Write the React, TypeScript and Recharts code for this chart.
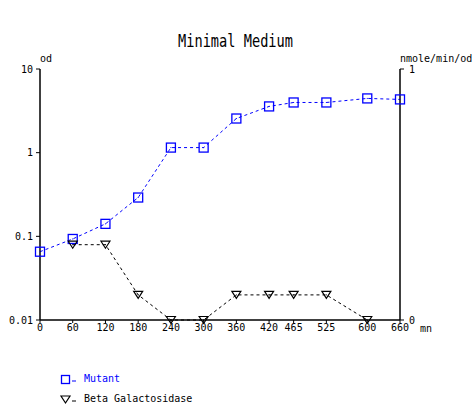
import React from 'react';
import { LineChart, Line, XAxis, YAxis } from 'recharts';

const times = [0, 60, 120, 180, 240, 300, 360, 420, 465, 525, 600, 660];
const mutantOd = [0.0655, 0.093, 0.141, 0.291, 1.15, 1.15, 2.56, 3.57, 3.98, 3.98, 4.45, 4.33];
const betaGalactosidase: (number | null)[] = [null, 0.3, 0.3, 0.1, 0, 0, 0.1, 0.1, 0.1, 0.1, 0, null];
const xTicks = [0, 60, 120, 180, 240, 300, 360, 420, 465, 525, 600, 660];
const leftTicks = [0.01, 0.1, 1, 10];
const rightTicks = [0, 1];
const title = 'Minimal Medium';
const leftUnit = 'od';
const rightUnit = 'nmole/min/od';
const xUnit = 'mn';
const seriesNames = ['Mutant', 'Beta Galactosidase'];

const data = times.map((t, i) => ({ t, mutant: mutantOd[i], beta: betaGalactosidase[i] }));

const FONT = '"DejaVu Sans Mono", "Liberation Mono", monospace';
const BLUE = '#0000ff';

const SquareDot = (props: any) => {
  const { cx, cy, index } = props;
  if (cx == null || cy == null || Number.isNaN(cy)) return <g key={`s${index}`} />;
  return (
    <g key={`s${index}`}>
      <rect x={cx - 4.5} y={cy - 4.5} width={9} height={9} fill="none" stroke={BLUE} strokeWidth={1.3} />
      <rect x={cx - 0.5} y={cy - 0.5} width={1} height={1} fill={BLUE} />
    </g>
  );
};

const TriDot = (props: any) => {
  const { cx, cy, index, value } = props;
  if (cx == null || cy == null || value == null || Number.isNaN(cy)) return <g key={`t${index}`} />;
  return (
    <g key={`t${index}`}>
      <path d={`M${cx - 4.5},${cy - 3.5} L${cx + 4.5},${cy - 3.5} L${cx},${cy + 3.5} Z`} fill="none" stroke="#000" strokeWidth={1.2} />
      <rect x={cx - 0.5} y={cy - 0.5} width={1} height={1} fill="#000" />
    </g>
  );
};

const tickStyle = { fontFamily: FONT, fontSize: 10, fill: '#000' };

export default function App() {
  return (
    <div style={{ position: 'absolute', left: 0, top: 0, width: 472, height: 405, background: '#fff' }}>
      <LineChart width={472} height={405} data={data} margin={{ top: 69, right: 0, bottom: 65, left: 0 }}>
        <XAxis
          dataKey="t"
          type="number"
          domain={[0, 660]}
          ticks={xTicks}
          interval={0}
          height={20}
          tickSize={3}
          tickMargin={1}
          stroke="#000"
          tick={tickStyle}
          axisLine={{ stroke: '#000', strokeWidth: 1.5 }}
        />
        <YAxis
          yAxisId="left"
          orientation="left"
          scale="log"
          domain={[0.01, 10]}
          allowDataOverflow
          ticks={leftTicks}
          interval={0}
          width={40}
          tickSize={4}
          tickMargin={3}
          stroke="#000"
          tick={tickStyle}
          tickFormatter={(v: number) => String(v)}
          axisLine={{ stroke: '#000', strokeWidth: 1.5 }}
        />
        <YAxis
          yAxisId="right"
          orientation="right"
          domain={[0, 1]}
          ticks={rightTicks}
          interval={0}
          width={72}
          tickSize={4}
          tickMargin={5}
          stroke="#000"
          tick={tickStyle}
          axisLine={{ stroke: '#000', strokeWidth: 1.5 }}
        />
        <Line
          yAxisId="left"
          type="linear"
          dataKey="mutant"
          name={seriesNames[0]}
          stroke={BLUE}
          strokeWidth={1}
          strokeDasharray="3 3"
          dot={SquareDot}
          activeDot={false}
          isAnimationActive={false}
        />
        <Line
          yAxisId="right"
          type="linear"
          dataKey="beta"
          name={seriesNames[1]}
          stroke="#000"
          strokeWidth={1}
          strokeDasharray="3 3"
          dot={TriDot}
          activeDot={false}
          isAnimationActive={false}
        />
        <text
          transform="translate(235.5,47) scale(1,1.35)"
          x={0}
          y={0}
          textAnchor="middle"
          fontFamily={FONT}
          fontSize={13}
          textLength={115}
          lengthAdjust="spacingAndGlyphs"
          fill="#000"
        >
          {title}
        </text>
        <text x={40} y={62} fontFamily={FONT} fontSize={10} fill="#000">{leftUnit}</text>
        <text x={400} y={62} fontFamily={FONT} fontSize={10} fill="#000">{rightUnit}</text>
        <text x={420} y={332} fontFamily={FONT} fontSize={10} fill="#000">{xUnit}</text>
        <g>
          <rect x={61.5} y={375.5} width={8} height={8} fill="none" stroke={BLUE} strokeWidth={1.3} />
          <line x1={72} y1={381} x2={76} y2={381} stroke={BLUE} strokeWidth={1} />
          <text x={84} y={382} fontFamily={FONT} fontSize={10} fill={BLUE}>{seriesNames[0]}</text>
          <path d="M61,396 L70,396 L65.5,403 Z" fill="none" stroke="#000" strokeWidth={1.2} />
          <line x1={72} y1={401} x2={76} y2={401} stroke="#000" strokeWidth={1} />
          <text x={84} y={402} fontFamily={FONT} fontSize={10} fill="#000">{seriesNames[1]}</text>
        </g>
      </LineChart>
    </div>
  );
}
